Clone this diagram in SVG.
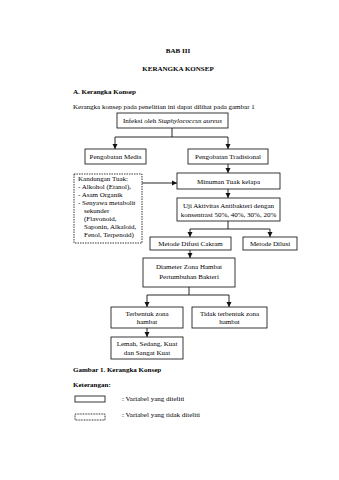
<svg xmlns="http://www.w3.org/2000/svg" width="339" height="480" viewBox="0 0 339 480">
<defs>
<marker id="ah" markerWidth="6" markerHeight="6" refX="5" refY="3" orient="auto" markerUnits="userSpaceOnUse">
<path d="M0,0.5 L5,3 L0,5.5 Z" fill="#111"/>
</marker>
<style>
text{font-family:"Liberation Serif","Times New Roman",serif;font-size:7px;fill:#000}
.b{font-weight:bold}
.c{text-anchor:middle}
.box{fill:#fff;stroke:#222;stroke-width:0.9}
.dash{fill:#fff;stroke:#222;stroke-width:0.9;stroke-dasharray:1.5 1}
.ln{fill:none;stroke:#111;stroke-width:0.9}
</style>
</defs>
<rect width="339" height="480" fill="#fff"/>
<text class="b c" x="178" y="53">BAB III</text>
<text class="b c" x="178" y="71">KERANGKA KONSEP</text>
<text class="b" x="73" y="94">A.  Kerangka Konsep</text>
<text x="73" y="109">Kerangka konsep pada penelitian ini dapat dilihat pada gambar 1</text>

<g id="connectors">
<path class="ln" d="M172,128 V137 M115,137 H228"/>
<path class="ln" d="M115,137 V149" marker-end="url(#ah)"/>
<path class="ln" d="M228,137 V149" marker-end="url(#ah)"/>
<path class="ln" d="M228,164 V173" marker-end="url(#ah)"/>
<path class="ln" d="M142,183 H177" marker-end="url(#ah)"/>
<path class="ln" d="M228,189 V198" marker-end="url(#ah)"/>
<path class="ln" d="M228,221 V229 M190,229 H270"/>
<path class="ln" d="M190,229 V237" marker-end="url(#ah)"/>
<path class="ln" d="M270,229 V237" marker-end="url(#ah)"/>
<path class="ln" d="M190,250 V258" marker-end="url(#ah)"/>
<path class="ln" d="M189,287 V295 M147,295 H229"/>
<path class="ln" d="M147,295 V307" marker-end="url(#ah)"/>
<path class="ln" d="M229,295 V307" marker-end="url(#ah)"/>
<path class="ln" d="M147,328 V337" marker-end="url(#ah)"/>
</g>

<g id="infeksi"><rect class="box" x="117" y="113" width="111" height="15"/>
<text class="c" x="172.5" y="123">Infeksi oleh <tspan font-style="italic">Staphylococcus aureus</tspan></text></g>
<g id="medis"><rect class="box" x="85" y="149" width="61" height="15"/>
<text class="c" x="115.5" y="159">Pengobatan Medis</text></g>
<g id="tradisional"><rect class="box" x="188" y="149" width="80" height="15"/>
<text class="c" x="228" y="159">Pengobatan Tradisional</text></g>
<g id="kandungan"><rect class="dash" x="74" y="174" width="68" height="69"/>
<text x="78" y="181">Kandungan Tuak:</text>
<text x="78" y="189">- Alkohol (Etanol),</text>
<text x="78" y="197">- Asam Organik</text>
<text x="78" y="205">- Senyawa metabolit</text>
<text x="84" y="213">sekunder</text>
<text x="84" y="221">(Flavonoid,</text>
<text x="84" y="229">Saponin, Alkaloid,</text>
<text x="84" y="237">Fenol, Terpenoid)</text></g>
<g id="minuman"><rect class="box" x="177" y="173" width="103" height="16"/>
<text class="c" x="228.5" y="183.5">Minuman Tuak kelapa</text></g>
<g id="uji"><rect class="box" x="177" y="198" width="103" height="23"/>
<text class="c" x="228.5" y="207.5">Uji Aktivitas Antibakteri dengan</text>
<text class="c" x="228.5" y="216.5">konsentrasi 50%, 40%, 30%, 20%</text></g>
<g id="difusi"><rect class="box" x="150" y="237" width="81" height="13"/>
<text class="c" x="190.5" y="246">Metode Difusi Cakram</text></g>
<g id="dilusi"><rect class="box" x="243" y="237" width="54" height="13"/>
<text class="c" x="270" y="246">Metode Dilusi</text></g>
<g id="diameter"><rect class="box" x="143" y="258" width="92" height="29"/>
<text class="c" x="189" y="269">Diameter Zona Hambat</text>
<text class="c" x="189" y="279">Pertumbuhan Bakteri</text></g>
<g id="terbentuk"><rect class="box" x="111" y="307" width="72" height="21"/>
<text class="c" x="147" y="315.5">Terbentuk zona</text>
<text class="c" x="147" y="324">hambat</text></g>
<g id="tidak"><rect class="box" x="192" y="307" width="75" height="21"/>
<text class="c" x="229.5" y="315.5">Tidak terbentuk zona</text>
<text class="c" x="229.5" y="324">hambat</text></g>
<g id="lemah"><rect class="box" x="111" y="337" width="72" height="22"/>
<text class="c" x="147" y="346">Lemah, Sedang, Kuat</text>
<text class="c" x="147" y="355">dan Sangat Kuat</text></g>

<text class="b" x="73" y="372">Gambar 1. Kerangka Konsep</text>
<text class="b" x="73" y="387">Keterangan:</text>
<g id="legend-solid"><rect class="box" x="75" y="396" width="30" height="6"/>
<text x="122" y="401">: Variabel yang diteliti</text></g>
<g id="legend-dashed"><rect x="75" y="414" width="30" height="6" fill="#fff" stroke="#222" stroke-width="0.9" stroke-dasharray="1 0.6"/>
<text x="122" y="417">: Variabel yang tidak diteliti</text></g>
</svg>
